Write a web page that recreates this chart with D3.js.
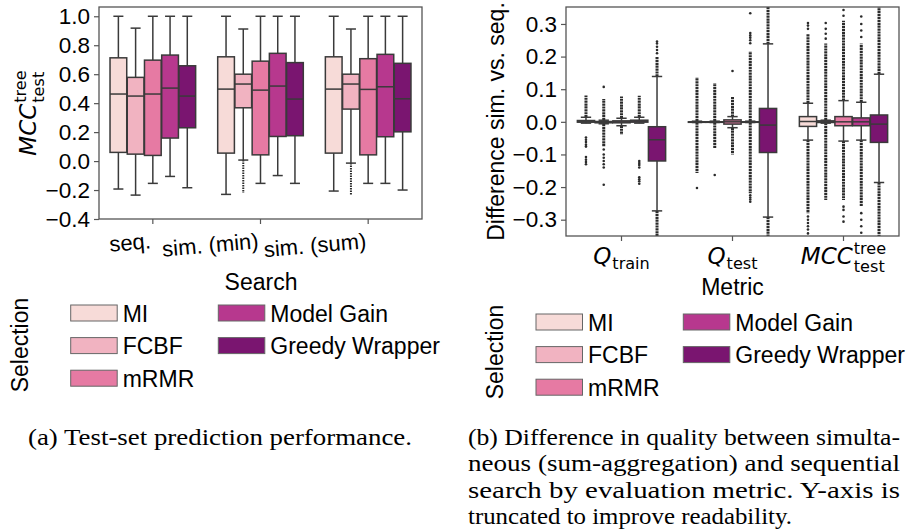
<!DOCTYPE html>
<html>
<head>
<meta charset="utf-8">
<script src="https://cdn.jsdelivr.net/npm/d3@7"></script>
<style>
body { margin: 0; background: #fff; }
text { font-family: "Liberation Sans", Arial, sans-serif; fill: #000; }
.math { font-family: "DejaVu Sans", sans-serif; }
.caption { font-family: "Liberation Serif", "Times New Roman", serif; }
</style>
</head>
<body>
<div id="figure"></div>
<script>
// Categories
var searches = ['seq.', 'sim. (min)', 'sim. (sum)'];
var metrics = ['Qtrain', 'Qtest', 'MCC'];
var selections = ['MI', 'FCBF', 'mRMR', 'Model Gain', 'Greedy Wrapper'];
var colors = ['#f7dbd8', '#f1b3c1', '#e67aa3', '#b7388e', '#7a1570'];

// Tick values
var mccTicks = [-0.4, -0.2, 0.0, 0.2, 0.4, 0.6, 0.8, 1.0];
var diffTicks = [-0.3, -0.2, -0.1, 0.0, 0.1, 0.2, 0.3];

// Panel (a): [lower whisker, q1, median, q3, upper whisker] per selection
var mccSeq = [
    [-0.193, 0.060, 0.463, 0.713, 1.0],
    [-0.235, 0.048, 0.449, 0.578, 0.918],
    [-0.154, 0.039, 0.463, 0.697, 1.0],
    [-0.106, 0.159, 0.504, 0.732, 1.0],
    [-0.184, 0.230, 0.449, 0.658, 1.0]
];
var mccSimMin = [
    [-0.230, 0.055, 0.497, 0.720, 1.0],
    [0.007, 0.368, 0.532, 0.600, 0.912],
    [-0.154, 0.043, 0.490, 0.690, 1.0],
    [-0.100, 0.170, 0.518, 0.744, 1.0],
    [-0.154, 0.175, 0.428, 0.680, 1.0]
];
var mccSimSum = [
    [-0.207, 0.055, 0.497, 0.720, 1.0],
    [-0.014, 0.359, 0.532, 0.600, 0.912],
    [-0.154, 0.043, 0.495, 0.707, 1.0],
    [-0.154, 0.168, 0.513, 0.737, 1.0],
    [-0.200, 0.202, 0.430, 0.675, 1.0]
];
// Dense outlier stretches [from, to]
var mccSeqRuns = [[], [], [], [], []];
var mccSimMinRuns = [[], [[0.007, -0.22]], [], [], []];
var mccSimSumRuns = [[], [[-0.014, -0.235]], [], [], []];

// Panel (b): differences sim. (sum) vs. seq.
var diffQtrain = [
    [-0.004, -0.001, 0.0, 0.004, 0.014],
    [-0.006, -0.003, 0.0, 0.001, 0.005],
    [-0.012, -0.003, 0.0, 0.003, 0.011],
    [-0.004, -0.001, 0.002, 0.005, 0.014],
    [-0.273, -0.120, -0.055, -0.015, 0.139]
];
var diffQtrainRuns = [
    [[0.014, 0.081]],
    [[0.005, 0.070], [-0.006, -0.075]],
    [[0.011, 0.078], [-0.012, -0.040]],
    [[0.014, 0.080]],
    [[0.139, 0.200], [-0.273, -0.360]]
];
var diffQtrainPoints = [
    [-0.048, -0.055, -0.062, -0.070, -0.076, -0.108, -0.116, -0.123, -0.130],
    [0.107, -0.085, -0.100, -0.110, -0.120, -0.130, -0.140, -0.193],
    [],
    [-0.120, -0.126, -0.132, -0.140, -0.170, -0.176, -0.182, -0.190],
    [0.210, 0.220, 0.230, 0.240, 0.246]
];
var diffQtest = [
    [-0.002, 0.0, 0.0, 0.0, 0.002],
    [-0.002, 0.0, 0.0, 0.0, 0.002],
    [-0.018, -0.007, 0.0, 0.006, 0.016],
    [-0.002, 0.0, 0.0, 0.0, 0.002],
    [-0.292, -0.094, -0.010, 0.041, 0.239]
];
var diffQtestRuns = [
    [[0.002, 0.136], [-0.002, -0.157]],
    [[0.002, 0.119], [-0.002, -0.080]],
    [[0.016, 0.078], [-0.018, -0.100]],
    [[0.002, 0.216], [-0.002, -0.219]],
    [[0.239, 0.360], [-0.292, -0.360]]
];
var diffQtestPoints = [
    [-0.203],
    [-0.163],
    [0.156],
    [0.333, 0.272, 0.265, 0.258, 0.250, 0.241, -0.225, -0.232, -0.238, -0.245],
    []
];
var diffMcc = [
    [-0.056, -0.014, 0.001, 0.016, 0.057],
    [-0.004, -0.002, 0.0, 0.003, 0.005],
    [-0.059, -0.012, 0.0, 0.016, 0.065],
    [-0.056, -0.012, 0.0, 0.012, 0.060],
    [-0.186, -0.063, -0.007, 0.021, 0.146]
];
var diffMccRuns = [
    [[0.057, 0.270], [-0.056, -0.280]],
    [[0.005, 0.240], [-0.004, -0.240]],
    [[0.065, 0.310], [-0.059, -0.240]],
    [[0.060, 0.240], [-0.056, -0.260]],
    [[0.146, 0.360], [-0.186, -0.360]]
];
var diffMccPoints = [
    [0.303, 0.295, 0.285, -0.290, -0.300, -0.310, -0.320, -0.330, -0.342],
    [0.303, 0.285, 0.270, 0.255],
    [0.343, 0.325, -0.260, -0.270, -0.290, -0.306],
    [0.323, 0.300, 0.280, 0.260, -0.280, -0.300, -0.320, -0.340],
    []
];

// Caption lines with their printed widths
var captionA = [['(a) Test-set prediction performance.', 384]];
var captionB = [
    ['(b) Difference in quality between simulta-', 432],
    ['neous (sum-aggregation) and sequential', 432],
    ['search by evaluation metric.  Y-axis is', 432],
    ['truncated to improve readability.', 324]
];

var lineColor = '#3a3a3a',
    frameColor = '#555';

// Add svg to page
var svg = d3.select('#figure')
    .append('svg')
    .attr('width', 917)
    .attr('height', 531)
    .style('background', '#fff');

// Draw one group of five boxes
function drawGroup(g, x, y, cat, stats, runs, points, runWidth, runDash) {
    var slot = x.bandwidth() * 0.8 / selections.length,
        boxW = slot * 0.97,
        capW = boxW * 0.6;

    var box = g.selectAll(null)
        .data(stats)
        .enter()
        .append('g')
        .attr('transform', function(d, i) {
            return 'translate(' + (x(cat) + x.bandwidth() * 0.1 + (i + 0.5) * slot) + ',0)';
        });

    // Outliers: dense stretches and single points
    box.each(function(d, i) {
        var b = d3.select(this);
        b.selectAll('.run')
            .data(runs ? runs[i] : [])
            .enter()
            .append('line')
            .attr('class', 'run')
            .attr('x1', 0).attr('x2', 0)
            .attr('y1', function(r) { return y(r[0]); })
            .attr('y2', function(r) { return y(r[1]); })
            .attr('stroke', '#2b2b2b')
            .attr('stroke-width', runWidth)
            .attr('stroke-dasharray', runDash);
        b.selectAll('.pt')
            .data(points ? points[i] : [])
            .enter()
            .append('circle')
            .attr('class', 'pt')
            .attr('cx', 0)
            .attr('cy', function(p) { return y(p); })
            .attr('r', 1.3)
            .attr('fill', '#2b2b2b');
    });

    // Whiskers
    box.append('line')
        .attr('x1', 0).attr('x2', 0)
        .attr('y1', function(d) { return y(d[3]); })
        .attr('y2', function(d) { return y(d[4]); })
        .attr('stroke', lineColor).attr('stroke-width', 1.5);
    box.append('line')
        .attr('x1', 0).attr('x2', 0)
        .attr('y1', function(d) { return y(d[1]); })
        .attr('y2', function(d) { return y(d[0]); })
        .attr('stroke', lineColor).attr('stroke-width', 1.5);
    // Caps
    [0, 4].forEach(function(k) {
        box.append('line')
            .attr('x1', -capW / 2).attr('x2', capW / 2)
            .attr('y1', function(d) { return y(d[k]); })
            .attr('y2', function(d) { return y(d[k]); })
            .attr('stroke', lineColor).attr('stroke-width', 1.5);
    });
    // Box
    box.append('rect')
        .attr('x', -boxW / 2)
        .attr('width', boxW)
        .attr('y', function(d) { return y(d[3]); })
        .attr('height', function(d) { return Math.max(y(d[1]) - y(d[3]), 0.5); })
        .attr('fill', function(d, i) { return colors[i]; })
        .attr('stroke', lineColor)
        .attr('stroke-width', 1.5);
    // Median
    box.append('line')
        .attr('x1', -boxW / 2).attr('x2', boxW / 2)
        .attr('y1', function(d) { return y(d[2]); })
        .attr('y2', function(d) { return y(d[2]); })
        .attr('stroke', lineColor).attr('stroke-width', 1.5);
}

// Math-style label: italic base with optional sup and sub, centred on 0
function mathLabel(parent, base, sup, sub, size) {
    var g = parent.append('g');
    var b = g.append('text')
        .attr('class', 'math')
        .style('font-style', 'oblique')
        .style('font-size', size + 'px')
        .text(base);
    var w = b.node().getComputedTextLength() + 1,
        sw = 0;
    if (sup) {
        var t = g.append('text').attr('class', 'math')
            .attr('x', w).attr('y', -size * 0.42)
            .style('font-size', (size * 0.7) + 'px').text(sup);
        sw = t.node().getComputedTextLength();
    }
    if (sub) {
        var s = g.append('text').attr('class', 'math')
            .attr('x', w).attr('y', size * (sup ? 0.33 : 0.2))
            .style('font-size', (size * 0.7) + 'px').text(sub);
        sw = Math.max(sw, s.node().getComputedTextLength());
    }
    g.selectAll('text').attr('transform', 'translate(' + (-(w + sw) / 2) + ',0)');
    return g;
}

// Legend with two columns
function drawLegend(x0, x1, top, titleX, titleY) {
    var rows = [0, 1, 2, 0, 1],
        cols = [x0, x0, x0, x1, x1];
    var item = svg.append('g').selectAll(null)
        .data(selections)
        .enter()
        .append('g')
        .attr('transform', function(d, i) {
            return 'translate(' + cols[i] + ',' + (top + rows[i] * 32.6) + ')';
        });
    item.append('rect')
        .attr('width', 46.5).attr('height', 16)
        .attr('fill', function(d, i) { return colors[i]; })
        .attr('stroke', '#666').attr('stroke-width', 1);
    item.append('text')
        .attr('x', 52).attr('y', 16.5)
        .style('font-size', '23px')
        .text(function(d) { return d; });
    svg.append('text')
        .attr('transform', 'translate(' + titleX + ',' + titleY + ') rotate(-90)')
        .attr('text-anchor', 'middle')
        .style('font-size', '23px')
        .text('Selection');
}

function styleAxis(g, size) {
    g.select('.domain').remove();
    g.selectAll('line').attr('stroke', frameColor).attr('stroke-width', 1.2);
    g.selectAll('text')
        .style('font-family', '"Liberation Sans", Arial, sans-serif')
        .style('font-size', size + 'px')
        .attr('fill', '#000');
}

// ---------------- Panel (a) ----------------
var xL = d3.scaleBand().domain(searches).range([99, 422]),
    yL = d3.scaleLinear().domain([-0.4, 1.064]).range([219, 7]);

var gA = svg.append('g');
drawGroup(gA, xL, yL, searches[0], mccSeq, mccSeqRuns, null, 2, '1.5,1');
drawGroup(gA, xL, yL, searches[1], mccSimMin, mccSimMinRuns, null, 2, '1.5,1');
drawGroup(gA, xL, yL, searches[2], mccSimSum, mccSimSumRuns, null, 2, '1.5,1');

gA.append('rect')
    .attr('x', 99).attr('y', 7).attr('width', 323).attr('height', 212)
    .attr('fill', 'none').attr('stroke', frameColor).attr('stroke-width', 1.3);

var yAxisA = gA.append('g')
    .attr('transform', 'translate(99,0)')
    .call(d3.axisLeft(yL).tickValues(mccTicks).tickFormat(d3.format('.1f')).tickSize(5).tickPadding(4));
styleAxis(yAxisA, 22.5);

var xAxisA = gA.append('g')
    .attr('transform', 'translate(0,219)')
    .call(d3.axisBottom(xL).tickSize(5).tickSizeOuter(0));
styleAxis(xAxisA, 22);
xAxisA.selectAll('text')
    .attr('text-anchor', 'end')
    .attr('x', -4).attr('y', 29).attr('dy', 0)
    .attr('transform', 'rotate(-5)');

svg.append('text')
    .attr('x', 261).attr('y', 290)
    .attr('text-anchor', 'middle')
    .style('font-size', '23px')
    .text('Search');

mathLabel(svg, 'MCC', 'tree', 'test', 23)
    .attr('transform', 'translate(36,113) rotate(-90)');

drawLegend(70.7, 218.3, 305, 28, 345);

// ---------------- Panel (b) ----------------
var xR = d3.scaleBand().domain(metrics).range([566, 899]),
    yR = d3.scaleLinear().domain([-0.35, 0.352]).range([236, 7]);

svg.append('clipPath').attr('id', 'clipB')
    .append('rect').attr('x', 566).attr('y', 7).attr('width', 333).attr('height', 229);

var gB = svg.append('g');
var plotB = gB.append('g').attr('clip-path', 'url(#clipB)');
drawGroup(plotB, xR, yR, metrics[0], diffQtrain, diffQtrainRuns, diffQtrainPoints, 3, '2.2,0.7');
drawGroup(plotB, xR, yR, metrics[1], diffQtest, diffQtestRuns, diffQtestPoints, 3, '2.2,0.7');
drawGroup(plotB, xR, yR, metrics[2], diffMcc, diffMccRuns, diffMccPoints, 3, '2.2,0.7');

gB.append('rect')
    .attr('x', 566).attr('y', 7).attr('width', 333).attr('height', 229)
    .attr('fill', 'none').attr('stroke', frameColor).attr('stroke-width', 1.3);

var yAxisB = gB.append('g')
    .attr('transform', 'translate(566,0)')
    .call(d3.axisLeft(yR).tickValues(diffTicks).tickFormat(d3.format('.1f')).tickSize(5).tickPadding(4));
styleAxis(yAxisB, 22.5);

var xAxisB = gB.append('g')
    .attr('transform', 'translate(0,236)')
    .call(d3.axisBottom(xR).tickSize(5).tickSizeOuter(0).tickFormat(''));
styleAxis(xAxisB, 22);

var metricLabels = [['Q', null, 'train'], ['Q', null, 'test'], ['MCC', 'tree', 'test']];
metrics.forEach(function(m, i) {
    mathLabel(svg, metricLabels[i][0], metricLabels[i][1], metricLabels[i][2], 23)
        .attr('transform', 'translate(' + (xR(m) + xR.bandwidth() / 2) + ',264)');
});

svg.append('text')
    .attr('x', 732.5).attr('y', 295)
    .attr('text-anchor', 'middle')
    .style('font-size', '23px')
    .text('Metric');

svg.append('text')
    .attr('transform', 'translate(504,121.5) rotate(-90)')
    .attr('text-anchor', 'middle')
    .style('font-size', '23px')
    .text('Difference sim. vs. seq.');

drawLegend(536, 683.3, 314, 503, 352);

// ---------------- Captions ----------------
// Each line stretched to its printed width
function drawCaption(lines, x, top) {
    svg.selectAll(null)
        .data(lines)
        .enter()
        .append('text')
        .attr('class', 'caption')
        .attr('x', x)
        .attr('y', function(d, i) { return top + i * 26.5; })
        .attr('textLength', function(d) { return d[1]; })
        .attr('lengthAdjust', 'spacingAndGlyphs')
        .style('font-size', '23px')
        .text(function(d) { return d[0]; });
}

drawCaption(captionA, 28, 444.5);
drawCaption(captionB, 468, 444.5);
</script>
</body>
</html>
